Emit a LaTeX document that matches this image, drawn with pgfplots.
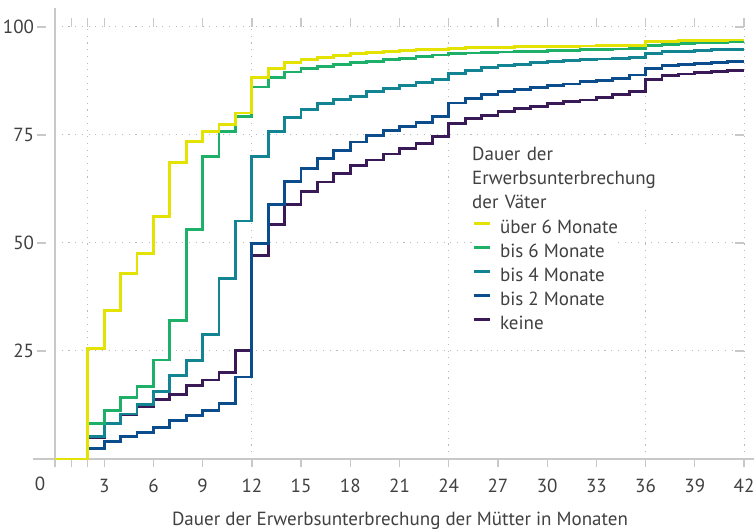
\documentclass[border=0pt]{standalone}
\usepackage{fontspec}
\setmainfont{PT Sans}
\usepackage{pgfplots}
\pgfplotsset{compat=1.18}
\definecolor{cYel}{RGB}{228,226,0}
\definecolor{cGrn}{RGB}{30,176,104}
\definecolor{cTeal}{RGB}{18,132,146}
\definecolor{cBlue}{RGB}{10,76,140}
\definecolor{cPur}{RGB}{58,26,86}
\definecolor{txt}{RGB}{64,64,64}
\definecolor{axc}{RGB}{200,200,200}
\definecolor{grd}{RGB}{185,185,185}

\pgfplotstableread{
x y
0 0
1 0
2 25.6
3 34.4
4 42.9
5 47.5
6 56.1
7 68.6
8 73.5
9 75.9
10 77.5
11 80.1
12 88.3
13 90.4
14 91.8
15 92.4
16 92.9
17 93.4
18 93.9
19 94.1
20 94.4
21 94.5
22 94.7
23 94.8
24 95.1
25 95.2
26 95.2
27 95.3
28 95.4
29 95.4
30 95.5
31 95.5
32 95.6
33 95.7
34 95.7
35 95.8
36 96.6
37 96.7
38 96.8
39 96.8
40 96.9
41 97.0
42 97.0
}\tYel

\pgfplotstableread{
x y
0 0
1 0
2 8.3
3 11.3
4 14.3
5 16.7
6 22.9
7 32.0
8 53.2
9 70.0
10 75.8
11 79.2
12 86.1
13 88.4
14 89.6
15 90.3
16 90.8
17 91.4
18 91.7
19 92.1
20 92.4
21 92.7
22 93.1
23 93.5
24 93.9
25 94.0
26 94.1
27 94.2
28 94.3
29 94.4
30 94.5
31 94.6
32 94.7
33 94.8
34 94.9
35 95.1
36 95.8
37 96.0
38 96.2
39 96.3
40 96.5
41 96.6
42 96.6
}\tGrn

\pgfplotstableread{
x y
0 0
1 0
2 5.2
3 8.3
4 10.4
5 12.7
6 15.6
7 19.4
8 22.8
9 28.9
10 41.8
11 55.1
12 70.0
13 75.8
14 79.1
15 80.9
16 82.3
17 83.3
18 84.0
19 85.0
20 85.7
21 86.5
22 87.2
23 87.9
24 89.2
25 90.0
26 90.7
27 91.0
28 91.3
29 91.7
30 92.0
31 92.2
32 92.4
33 92.6
34 92.7
35 93.0
36 93.9
37 94.3
38 94.4
39 94.5
40 94.7
41 94.8
42 94.8
}\tTeal

\pgfplotstableread{
x y
0 0
1 0
2 2.5
3 4.0
4 5.2
5 6.2
6 7.3
7 9.0
8 10.0
9 11.2
10 12.9
11 19.0
12 49.8
13 59.0
14 64.2
15 67.3
16 69.6
17 71.5
18 73.4
19 74.8
20 76.0
21 76.9
22 77.9
23 79.2
24 82.4
25 83.5
26 84.3
27 85.0
28 85.6
29 86.0
30 86.4
31 86.8
32 87.3
33 87.7
34 88.1
35 88.9
36 90.4
37 91.0
38 91.4
39 91.6
40 91.8
41 92.0
42 92.0
}\tBlue

\pgfplotstableread{
x y
0 0
1 0
2 5.0
3 8.3
4 10.2
5 12.1
6 13.7
7 15.0
8 17.1
9 18.3
10 20.0
11 25.2
12 47.1
13 54.3
14 58.9
15 61.9
16 64.1
17 66.0
18 67.9
19 69.2
20 70.6
21 71.9
22 73.1
23 74.6
24 77.7
25 78.9
26 79.6
27 80.4
28 81.2
29 81.6
30 82.2
31 82.7
32 83.1
33 83.7
34 84.3
35 85.0
36 87.9
37 88.7
38 89.1
39 89.4
40 89.7
41 89.9
42 89.9
}\tPur

\begin{document}
\begin{tikzpicture}
\useasboundingbox (0pt,0pt) rectangle (754pt,532pt);
\begin{axis}[
  at={(55pt,73pt)}, anchor=south west,
  scale only axis,
  x=16.405pt, y=4.32pt,
  xmin=0, xmax=42, ymin=0, ymax=100,
  axis line style={draw=none},
  clip=false,
  xtick={0,1,2,3,6,9,12,15,18,21,24,27,30,33,36,39,42},
  xticklabels={,,,3,6,9,12,15,18,21,24,27,30,33,36,39,42},
  ytick={25,50,75,100},
  tick align=outside,
  major tick length=8.5pt,
  tick style={axc, line width=1.3pt},
  ytick style={xshift=-9pt},
  ymajorgrids,
  extra x ticks={2,12,24,36,42},
  extra x tick labels={},
  extra x tick style={grid=major, major tick length=0pt},
  grid style={grd, line width=1pt, dash pattern=on 1.1pt off 5.6pt},
  /pgf/number format/assume math mode=true,
  tick label style={font=\fontsize{19}{22}\selectfont, text=txt},
  xticklabel style={yshift=-8pt},
  yticklabel style={xshift=-9pt},
  legend style={at={(axis cs:25.42,55.3)}, anchor=north west, fill=white, draw=none,
    font=\fontsize{19}{22}\selectfont, text=txt, inner sep=0pt, outer sep=0pt,
    row sep=7pt, column sep=0pt,
    nodes={inner sep=0pt, text height=13pt, text depth=4pt}},
  legend cell align=left,
  legend image code/.code={\draw[#1, line width=3pt] (0pt,5pt) -- (16pt,5pt);},
  reverse legend,
  every axis plot/.append style={line width=2.8pt, const plot},
]
\draw[axc, line width=1.3pt] (axis cs:-1.35,0) -- (axis cs:42.6,0);
\draw[axc, line width=1.3pt] (axis cs:0,0) -- (axis cs:0,104.5);
\addplot[cPur] table[x=x,y=y] {\tPur};
\addlegendentry{\hspace{9pt}keine}
\addplot[cBlue] table[x=x,y=y] {\tBlue};
\addlegendentry{\hspace{9pt}bis 2 Monate}
\addplot[cTeal] table[x=x,y=y] {\tTeal};
\addlegendentry{\hspace{9pt}bis 4 Monate}
\addplot[cGrn] table[x=x,y=y] {\tGrn};
\addlegendentry{\hspace{9pt}bis 6 Monate}
\addplot[cYel] table[x=x,y=y] {\tYel};
\addlegendentry{\hspace{9pt}über 6 Monate}
\node[fill=white, anchor=north west, align=left, inner sep=0pt, text=txt,
  font=\fontsize{19}{24}\selectfont, text width=205pt]
  at (axis cs:25.42,73.0) {\strut Dauer der\\Erwerbsunterbrechung\\der Väter};
\node[text=txt, font=\fontsize{19}{22}\selectfont] at (axis cs:-0.91,-5.8) {0};
\node[text=txt, font=\fontsize{19}{22}\selectfont] at (axis cs:21.03,-14.4)
  {Dauer der Erwerbsunterbrechung der Mütter in Monaten};
\end{axis}
\end{tikzpicture}
\end{document}
